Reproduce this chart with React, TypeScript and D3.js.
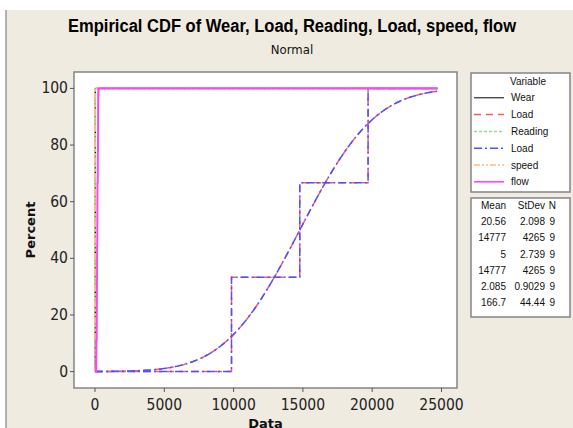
import React from "react";
import * as d3 from "d3";

const variables = ["Wear", "Load", "Reading", "Load", "speed", "flow"];
const means = [20.56, 14777, 5, 14777, 2.085, 166.7];
const stdevs = [2.098, 4265, 2.739, 4265, 0.9029, 44.44];
const counts = [9, 9, 9, 9, 9, 9];
const meanLabels = ["20.56", "14777", "5", "14777", "2.085", "166.7"];
const stdevLabels = ["2.098", "4265", "2.739", "4265", "0.9029", "44.44"];

const wearData = [17.5, 18.5, 19, 20, 21, 21, 22, 23, 23.04];
const loadData = [9850, 9850, 9850, 14777, 14777, 14777, 19704, 19704, 19704];
const readingData = [1, 2, 3, 4, 5, 6, 7, 8, 9];
const speedData = [1, 1, 1.5, 2, 2, 2.3, 2.5, 3.2, 3.265];
const flowData = [100, 125, 125, 150, 175, 175, 200, 225, 225];
const seriesData = [wearData, loadData, readingData, loadData, speedData, flowData];

const curveEnd = 24700;
const xTicks = [0, 5000, 10000, 15000, 20000, 25000];
const yTicks = [0, 20, 40, 60, 80, 100];

const colors = ["#000000", "#ff5a5a", "#8ee08e", "#5050ff", "#ffbb88", "#ff44ff"];
const dashes = ["none", "7,5", "3,2", "8,3,2,3", "6,2,2,2,2,2", "none"];
const widths = [1, 1.5, 1.5, 1.5, 1.5, 1.6];

function erf(x: number) {
  const s = x < 0 ? -1 : 1;
  x = Math.abs(x);
  const t = 1 / (1 + 0.3275911 * x);
  const y =
    1 -
    ((((1.061405429 * t - 1.453152027) * t + 1.421413741) * t - 0.284496736) * t + 0.254829592) *
      t *
      Math.exp(-x * x);
  return s * y;
}
const normCdf = (x: number, m: number, s: number) => 0.5 * (1 + erf((x - m) / (s * Math.SQRT2)));

export default function App() {
  const W = 573,
    H = 428;
  const left = 74,
    right = 457,
    top = 72,
    bottom = 388;
  const x = d3.scaleLinear().domain([-1515, 26120]).range([left, right]);
  const y = d3.scaleLinear().domain([-5.8, 105.8]).range([bottom, top]);
  const allData = seriesData.flat();
  const lo = d3.min(allData) as number;
  const hi = curveEnd;
  const line = d3
    .line<[number, number]>()
    .x((d) => x(d[0]))
    .y((d) => y(d[1]));

  const ecdfPath = (data: number[]) => {
    const s = [...data].sort((a, b) => a - b);
    const n = s.length;
    const pts: [number, number][] = [[lo, 0]];
    let prev = 0;
    const uniq = Array.from(new Set(s));
    uniq.forEach((v) => {
      const c = s.filter((u) => u <= v).length;
      pts.push([v, prev]);
      prev = (c / n) * 100;
      pts.push([v, prev]);
    });
    pts.push([hi, prev]);
    return line(pts) as string;
  };

  const fitPath = (m: number, sd: number) => {
    const xs: number[] = [];
    for (let i = 0; i <= 400; i++) xs.push(lo + ((hi - lo) * i) / 400);
    for (let i = 0; i <= 300; i++) {
      const v = m - 5 * sd + (10 * sd * i) / 300;
      if (v >= lo && v <= hi) xs.push(v);
    }
    xs.sort((a, b) => a - b);
    const pts: [number, number][] = xs.map((v) => [v, normCdf(v, m, sd) * 100]);
    return line(pts) as string;
  };

  const font = "'Liberation Sans', Arial, sans-serif";
  const narrow = "'Liberation Sans Narrow', 'DejaVu Sans Condensed'";
  const legendY = (i: number) => 97.8 + i * 16.8;
  const statY = (i: number) => 225.2 + i * 16.2;

  return (
    <svg width={W} height={H} style={{ position: "absolute", left: 0, top: 0 }}>
      <rect x={0} y={0} width={W} height={H} fill="#ffffff" />
      <rect x={6} y={10} width={W - 6} height={H - 10} fill="#efebe1" />
      <line x1={6} y1={10} x2={6} y2={H} stroke="#9a9a9a" strokeWidth={1.5} />

      <text x={292} y={31.5} textAnchor="middle" fontFamily={font} fontWeight="bold" fontSize={18} textLength={448} lengthAdjust="spacingAndGlyphs" fill="#000">
        Empirical CDF of Wear, Load, Reading, Load, speed, flow
      </text>
      <text x={292} y={53.5} textAnchor="middle" fontFamily={narrow} fontSize={13} fill="#111">
        Normal
      </text>

      <rect x={left} y={top} width={right - left} height={bottom - top} fill="#ffffff" stroke="#858585" strokeWidth={1.5} />

      {yTicks.map((t) => (
        <g key={"y" + t}>
          <line x1={left - 4} x2={left} y1={y(t)} y2={y(t)} stroke="#555" />
          <text x={left - 6} y={y(t) + 5} textAnchor="end" fontFamily={narrow} fontSize={15.5} fill="#222">
            {t}
          </text>
        </g>
      ))}
      {xTicks.map((t) => (
        <g key={"x" + t}>
          <line x1={x(t)} x2={x(t)} y1={bottom} y2={bottom + 4} stroke="#555" />
          <text x={x(t)} y={410} textAnchor="middle" fontFamily={narrow} fontSize={15.5} fill="#222">
            {t}
          </text>
        </g>
      ))}
      <text x={265.5} y={428} textAnchor="middle" fontFamily="'DejaVu Sans'" fontWeight="bold" fontSize={13} fill="#111">
        Data
      </text>
      <text transform={`translate(35,230) rotate(-90)`} textAnchor="middle" fontFamily="'DejaVu Sans'" fontWeight="bold" fontSize={13} fill="#111">
        Percent
      </text>

      <g fill="none">
        {variables.map((v, i) => (
          <g key={"s" + i} stroke={colors[i]} strokeWidth={widths[i]} strokeDasharray={dashes[i] === "none" ? undefined : dashes[i]}>
            <path d={ecdfPath(seriesData[i])} />
            <path d={fitPath(means[i], stdevs[i])} />
          </g>
        ))}
      </g>

      <rect x={471} y={73} width={99} height={119} fill="#ffffff" stroke="#858585" strokeWidth={1.5} />
      <text x={510} y={84.5} fontFamily={font} fontSize={10} fill="#111">
        Variable
      </text>
      {variables.map((v, i) => (
        <g key={"l" + i}>
          <line x1={474} x2={504} y1={legendY(i)} y2={legendY(i)} stroke={colors[i]} strokeWidth={widths[i]} strokeDasharray={dashes[i] === "none" ? undefined : dashes[i]} />
          <text x={511} y={legendY(i) + 3.5} fontFamily={font} fontSize={10} fill="#111">
            {v}
          </text>
        </g>
      ))}

      <rect x={471} y={198} width={99} height={119} fill="#ffffff" stroke="#858585" strokeWidth={1.5} />
      <text x={506} y={209} textAnchor="end" fontFamily={font} fontSize={10} fill="#111">Mean</text>
      <text x={545} y={209} textAnchor="end" fontFamily={font} fontSize={10} fill="#111">StDev</text>
      <text x={556} y={209} textAnchor="end" fontFamily={font} fontSize={10} fill="#111">N</text>
      {variables.map((v, i) => (
        <g key={"t" + i} fontFamily={font} fontSize={10} fill="#111" textAnchor="end">
          <text x={506} y={statY(i)}>{meanLabels[i]}</text>
          <text x={545} y={statY(i)}>{stdevLabels[i]}</text>
          <text x={555} y={statY(i)}>{counts[i]}</text>
        </g>
      ))}
    </svg>
  );
}
